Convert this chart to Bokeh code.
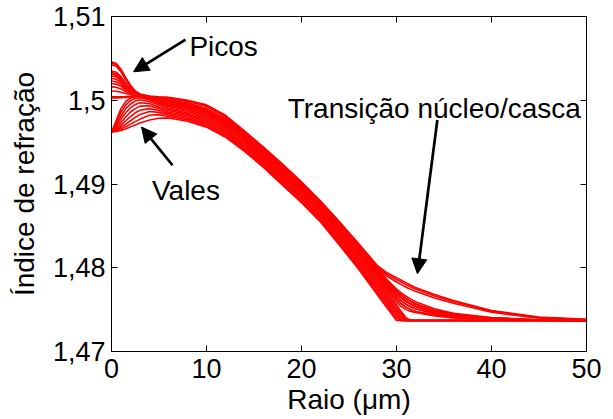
from bokeh.plotting import figure
from bokeh.models import (Range1d, FixedTicker, LinearAxis, Arrow, NormalHead, Label,
                          CustomJSTickFormatter, ColumnDataSource)
from bokeh.embed import file_html
from bokeh.resources import INLINE

# ---------------- data (refractive index profiles) ----------------
raio = [0, 0.5, 1, 1.5, 2, 2.5, 3, 4, 5, 6, 8, 10, 12, 14, 16, 18, 20, 22, 24,
        26, 28, 29, 30, 30.5, 31, 31.5, 32, 34, 36, 40, 45, 50]

x_ticks = [0, 10, 20, 30, 40, 50]
y_ticks = [1.47, 1.48, 1.49, 1.5, 1.51]

# core region (r = 0 ... 5 um): peaks, flat centres and valleys
nucleo_pico_1 = [1.50350, 1.50335, 1.50281, 1.50200, 1.50131, 1.50080, 1.50056, 1.50040, 1.50020]
nucleo_pico_2 = [1.50330, 1.50316, 1.50266, 1.50190, 1.50126, 1.50078, 1.50056, 1.50045, 1.50030]
nucleo_pico_3 = [1.50310, 1.50297, 1.50250, 1.50180, 1.50120, 1.50076, 1.50055, 1.50035, 1.50010]
nucleo_pico_4 = [1.50290, 1.50278, 1.50235, 1.50170, 1.50115, 1.50074, 1.50055, 1.50030, 1.50000]
nucleo_pico_5 = [1.50260, 1.50250, 1.50212, 1.50155, 1.50107, 1.50071, 1.50054, 1.50040, 1.50020]
nucleo_pico_6 = [1.50230, 1.50221, 1.50189, 1.50140, 1.50099, 1.50068, 1.50054, 1.50025, 1.49985]
nucleo_pico_7 = [1.50200, 1.50193, 1.50166, 1.50125, 1.50091, 1.50065, 1.50053, 1.50035, 1.50010]
nucleo_pico_8 = [1.50160, 1.50155, 1.50135, 1.50105, 1.50080, 1.50061, 1.50052, 1.50018, 1.49972]
nucleo_pico_9 = [1.50110, 1.50107, 1.50096, 1.50080, 1.50066, 1.50056, 1.50051, 1.50030, 1.50000]
nucleo_plano_1 = [1.50040, 1.50040, 1.50041, 1.50043, 1.50046, 1.50050, 1.50052, 1.50040, 1.50020]
nucleo_plano_2 = [1.50028, 1.50028, 1.50030, 1.50033, 1.50038, 1.50043, 1.50048, 1.50035, 1.50010]
nucleo_vale_1 = [1.49620, 1.49760, 1.49900, 1.49985, 1.50025, 1.50043, 1.50048, 1.50025, 1.49985]
nucleo_vale_2 = [1.49620, 1.49730, 1.49860, 1.49945, 1.49995, 1.50020, 1.50030, 1.50005, 1.49962]
nucleo_vale_3 = [1.49620, 1.49705, 1.49815, 1.49900, 1.49955, 1.49990, 1.50005, 1.49985, 1.49942]
nucleo_vale_4 = [1.49620, 1.49685, 1.49775, 1.49850, 1.49910, 1.49950, 1.49970, 1.49960, 1.49920]
nucleo_vale_5 = [1.49620, 1.49665, 1.49735, 1.49800, 1.49860, 1.49900, 1.49930, 1.49935, 1.49900]
nucleo_vale_6 = [1.49620, 1.49650, 1.49700, 1.49755, 1.49805, 1.49850, 1.49880, 1.49900, 1.49878]
nucleo_vale_7 = [1.49620, 1.49640, 1.49675, 1.49715, 1.49755, 1.49795, 1.49830, 1.49865, 1.49855]
nucleo_vale_8 = [1.49620, 1.49633, 1.49655, 1.49685, 1.49715, 1.49745, 1.49775, 1.49820, 1.49828]
nucleo_vale_9 = [1.49620, 1.49627, 1.49640, 1.49660, 1.49682, 1.49705, 1.49728, 1.49765, 1.49785]

# graded body (r = 6 ... 29 um), levels from the top to the bottom of the band
corpo_0 = [1.50010, 1.49970, 1.49900, 1.49780, 1.49610, 1.49420, 1.49220, 1.49010, 1.48780, 1.48530, 1.48270, 1.48000, 1.47860]
corpo_1 = [1.49993, 1.49953, 1.49883, 1.49763, 1.49593, 1.49403, 1.49202, 1.48992, 1.48762, 1.48510, 1.48248, 1.47975, 1.47834]
corpo_2 = [1.49976, 1.49936, 1.49866, 1.49746, 1.49576, 1.49386, 1.49184, 1.48974, 1.48744, 1.48490, 1.48226, 1.47950, 1.47808]
corpo_3 = [1.49959, 1.49919, 1.49849, 1.49729, 1.49559, 1.49369, 1.49166, 1.48956, 1.48726, 1.48470, 1.48204, 1.47925, 1.47782]
corpo_4 = [1.49942, 1.49902, 1.49832, 1.49712, 1.49542, 1.49352, 1.49148, 1.48938, 1.48708, 1.48450, 1.48182, 1.47900, 1.47756]
corpo_5 = [1.49925, 1.49885, 1.49815, 1.49695, 1.49525, 1.49335, 1.49130, 1.48920, 1.48690, 1.48430, 1.48160, 1.47875, 1.47730]
corpo_6 = [1.49908, 1.49868, 1.49798, 1.49678, 1.49508, 1.49318, 1.49112, 1.48902, 1.48672, 1.48410, 1.48138, 1.47850, 1.47704]
corpo_7 = [1.49891, 1.49851, 1.49781, 1.49661, 1.49491, 1.49301, 1.49094, 1.48884, 1.48654, 1.48390, 1.48116, 1.47825, 1.47678]
corpo_8 = [1.49874, 1.49834, 1.49764, 1.49644, 1.49474, 1.49284, 1.49076, 1.48866, 1.48636, 1.48370, 1.48094, 1.47800, 1.47652]
corpo_9 = [1.49857, 1.49817, 1.49747, 1.49627, 1.49457, 1.49267, 1.49058, 1.48848, 1.48618, 1.48350, 1.48072, 1.47775, 1.47626]
corpo_10 = [1.49840, 1.49800, 1.49730, 1.49610, 1.49440, 1.49250, 1.49040, 1.48830, 1.48600, 1.48330, 1.48050, 1.47750, 1.47600]
corpo_11 = [1.49823, 1.49783, 1.49713, 1.49593, 1.49423, 1.49233, 1.49022, 1.48812, 1.48582, 1.48310, 1.48028, 1.47725, 1.47574]
corpo_12 = [1.49806, 1.49766, 1.49696, 1.49576, 1.49406, 1.49216, 1.49004, 1.48794, 1.48564, 1.48290, 1.48006, 1.47700, 1.47548]
corpo_13 = [1.49789, 1.49749, 1.49679, 1.49559, 1.49389, 1.49199, 1.48986, 1.48776, 1.48546, 1.48270, 1.47984, 1.47675, 1.47522]

# core/cladding transition and cladding (r = 30 ... 50 um)
casca_0 = [1.47745, 1.47700, 1.47660, 1.47625, 1.47595, 1.47510, 1.47455, 1.47405, 1.47380, 1.47372]
casca_1 = [1.47720, 1.47672, 1.47632, 1.47598, 1.47568, 1.47490, 1.47442, 1.47398, 1.47377, 1.47371]
casca_2 = [1.47690, 1.47640, 1.47600, 1.47568, 1.47540, 1.47470, 1.47430, 1.47392, 1.47375, 1.47371]
casca_3 = [1.47655, 1.47605, 1.47565, 1.47535, 1.47510, 1.47452, 1.47418, 1.47387, 1.47374, 1.47370]
casca_4 = [1.47622, 1.47570, 1.47530, 1.47500, 1.47478, 1.47435, 1.47407, 1.47383, 1.47373, 1.47370]
casca_5 = [1.47592, 1.47535, 1.47500, 1.47478, 1.47465, 1.47425, 1.47402, 1.47380, 1.47372, 1.47370]
casca_6 = [1.47554, 1.47479, 1.47404, 1.47370, 1.47370, 1.47370, 1.47370, 1.47370, 1.47370, 1.47370]
casca_7 = [1.47528, 1.47453, 1.47378, 1.47370, 1.47370, 1.47370, 1.47370, 1.47370, 1.47370, 1.47370]
casca_8 = [1.47502, 1.47427, 1.47370, 1.47370, 1.47370, 1.47370, 1.47370, 1.47370, 1.47370, 1.47370]
casca_9 = [1.47476, 1.47401, 1.47370, 1.47370, 1.47370, 1.47370, 1.47370, 1.47370, 1.47370, 1.47370]
casca_10 = [1.47450, 1.47372, 1.47370, 1.47370, 1.47370, 1.47370, 1.47370, 1.47370, 1.47370, 1.47370]
casca_11 = [1.47424, 1.47370, 1.47370, 1.47370, 1.47370, 1.47370, 1.47370, 1.47370, 1.47370, 1.47370]
casca_12 = [1.47398, 1.47370, 1.47370, 1.47370, 1.47370, 1.47370, 1.47370, 1.47370, 1.47370, 1.47370]
casca_13 = [1.47370, 1.47370, 1.47370, 1.47370, 1.47370, 1.47370, 1.47370, 1.47370, 1.47370, 1.47370]

# three outlying profiles (highest peaks, smooth transition)
perfil_alto_1 = [1.50460, 1.50440, 1.50370, 1.50270, 1.50180, 1.50110, 1.50075, 1.50050, 1.50042,
                 1.50035, 1.50000, 1.49945, 1.49820, 1.49635, 1.49440, 1.49238, 1.49025, 1.48797,
                 1.48548, 1.48290, 1.48025, 1.47940,
                 1.47880, 1.47850, 1.47820, 1.47792, 1.47765, 1.47680, 1.47610, 1.47490, 1.47412, 1.47385]
perfil_alto_2 = [1.50445, 1.50425, 1.50355, 1.50255, 1.50168, 1.50100, 1.50066, 1.50043, 1.50036,
                 1.50030, 1.49993, 1.49935, 1.49808, 1.49625, 1.49432, 1.49230, 1.49018, 1.48790,
                 1.48540, 1.48281, 1.48012, 1.47920,
                 1.47858, 1.47828, 1.47798, 1.47770, 1.47745, 1.47662, 1.47595, 1.47482, 1.47405, 1.47382]
perfil_alto_3 = [1.50425, 1.50405, 1.50338, 1.50240, 1.50155, 1.50090, 1.50058, 1.50036, 1.50030,
                 1.50025, 1.49987, 1.49926, 1.49798, 1.49617, 1.49426, 1.49224, 1.49013, 1.48784,
                 1.48535, 1.48276, 1.48005, 1.47900,
                 1.47830, 1.47798, 1.47768, 1.47742, 1.47718, 1.47640, 1.47575, 1.47468, 1.47398, 1.47379]

perfis = [
    perfil_alto_1, perfil_alto_2, perfil_alto_3,
    nucleo_pico_1 + corpo_1 + casca_1,
    nucleo_pico_2 + corpo_0 + casca_0,
    nucleo_pico_3 + corpo_2 + casca_2,
    nucleo_pico_4 + corpo_3 + casca_3,
    nucleo_pico_5 + corpo_1 + casca_1,
    nucleo_pico_6 + corpo_4 + casca_4,
    nucleo_pico_7 + corpo_2 + casca_2,
    nucleo_pico_8 + corpo_5 + casca_5,
    nucleo_pico_9 + corpo_3 + casca_3,
    nucleo_plano_1 + corpo_1 + casca_1,
    nucleo_plano_2 + corpo_2 + casca_2,
    nucleo_vale_1 + corpo_4 + casca_4,
    nucleo_vale_2 + corpo_6 + casca_6,
    nucleo_vale_3 + corpo_7 + casca_7,
    nucleo_vale_4 + corpo_8 + casca_8,
    nucleo_vale_5 + corpo_9 + casca_9,
    nucleo_vale_6 + corpo_10 + casca_10,
    nucleo_vale_7 + corpo_11 + casca_11,
    nucleo_vale_8 + corpo_12 + casca_12,
    nucleo_vale_9 + corpo_13 + casca_13,
]

# annotations: (text, text x, text baseline y, arrow start, arrow tip)
anotacoes = [
    ("Picos", 8.2, 1.50644, (7.79, 1.50724), (2.32, 1.50340)),
    ("Vales", 4.26, 1.48924, (6.42, 1.49224), (3.16, 1.49680)),
    ("Transição núcleo/casca", 18.55, 1.49904, (34.3, 1.49764), (32.2, 1.47928)),
]

# ---------------- figure ----------------
FONT = "Liberation Sans"

p = figure(width=606, height=419, x_range=Range1d(0, 50), y_range=Range1d(1.47, 1.51),
           output_backend="svg", toolbar_location=None,
           min_border_left=111, min_border_right=20, min_border_top=16, min_border_bottom=68)
p.background_fill_color = "white"
p.border_fill_color = "white"
p.outline_line_color = "black"
p.outline_line_width = 1
p.xgrid.visible = False
p.ygrid.visible = False

src = ColumnDataSource(dict(xs=[raio] * len(perfis), ys=perfis))
p.multi_line(xs="xs", ys="ys", source=src, line_color="#ff0000", line_width=1.6)

# axes
for ax in (p.xaxis[0], p.yaxis[0]):
    ax.major_tick_in = 6
    ax.major_tick_out = 0
    ax.minor_tick_line_color = None
    ax.axis_line_color = "black"
    ax.major_tick_line_color = "black"
    ax.major_label_text_font = FONT
    ax.major_label_text_font_size = "27px"
    ax.major_label_text_color = "black"
    ax.major_label_text_line_height = 1.0
    ax.axis_label_text_font = FONT
    ax.axis_label_text_font_size = "28px"
    ax.axis_label_text_font_style = "normal"
    ax.axis_label_text_color = "black"
    ax.axis_label_text_line_height = 1.0

p.xaxis.ticker = FixedTicker(ticks=x_ticks)
p.yaxis.ticker = FixedTicker(ticks=y_ticks)
p.yaxis.formatter = CustomJSTickFormatter(
    code="return tick.toFixed(2).replace(/0$/, '').replace('.', ',');")
p.xaxis.axis_label = "Raio (μm)"
p.yaxis.axis_label = "Índice de refração"
p.xaxis.major_label_standoff = 7
p.xaxis.axis_label_standoff = 3
p.yaxis.major_label_standoff = 6
p.yaxis.axis_label_standoff = 10

top = LinearAxis(ticker=FixedTicker(ticks=x_ticks), formatter=CustomJSTickFormatter(code="return '';"),
                 major_label_text_font_size="1px",
                 major_tick_in=6, major_tick_out=0, minor_tick_line_color=None,
                 major_label_standoff=0, axis_line_color="black")
right = LinearAxis(ticker=FixedTicker(ticks=y_ticks), formatter=CustomJSTickFormatter(code="return '';"),
                   major_label_text_font_size="1px",
                   major_tick_in=6, major_tick_out=0, minor_tick_line_color=None,
                   major_label_standoff=0, axis_line_color="black")
p.add_layout(top, "above")
p.add_layout(right, "right")

# annotations
for texto, tx, ty, (xs0, ys0), (xs1, ys1) in anotacoes:
    p.add_layout(Arrow(end=NormalHead(size=15, fill_color="black", line_color="black"),
                       x_start=xs0, y_start=ys0, x_end=xs1, y_end=ys1,
                       line_color="black", line_width=2.7))
    p.add_layout(Label(x=tx, y=ty, text=texto, text_font=FONT, text_font_size="28px",
                       text_color="black", text_baseline="alphabetic", text_align="left"))

open("out.html", "w").write(file_html(p, INLINE))
